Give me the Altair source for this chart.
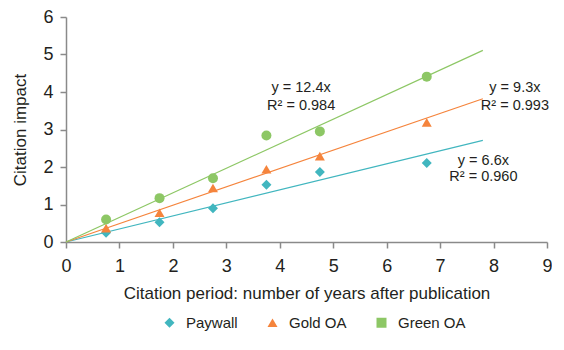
import altair as alt
import pandas as pd

# ---- data ----
series = ["Paywall", "Gold OA", "Green OA"]
years = [0.75, 1.75, 2.75, 3.75, 4.75, 6.75]
paywall = [0.25, 0.53, 0.90, 1.53, 1.87, 2.11]
gold = [0.37, 0.78, 1.44, 1.94, 2.29, 3.19]
green = [0.60, 1.17, 1.70, 2.84, 2.95, 4.41]

trend_x = [0.0, 7.8]
trend_start = [0.0, 0.0, 0.0]
trend_end = [2.71, 3.82, 5.11]

eq_labels = ["y = 6.6x", "y = 9.3x", "y = 12.4x"]
r2_labels = ["R\u00b2 = 0.960", "R\u00b2 = 0.993", "R\u00b2 = 0.984"]
label_x = [7.81, 8.4, 4.4]
eq_y = [2.17, 4.11, 4.12]
r2_y = [1.73, 3.64, 3.64]

colors = ["#41b6bf", "#f5843c", "#8dc765"]
FONT = "Liberation Sans, Arial, sans-serif"
TXT = "#231f20"

# ---- tables ----
pts = pd.DataFrame(
    [{"series": s, "x": x, "y": y}
     for s, vals in zip(series, [paywall, gold, green])
     for x, y in zip(years, vals)]
)
lines = pd.DataFrame(
    [{"series": s, "x": trend_x[0], "y": a} for s, a in zip(series, trend_start)]
    + [{"series": s, "x": trend_x[1], "y": b} for s, b in zip(series, trend_end)]
)
ann = pd.DataFrame(
    [{"series": s, "x": lx, "y": ey, "t": e} for s, lx, ey, e in zip(series, label_x, eq_y, eq_labels)]
    + [{"series": s, "x": lx, "y": ry, "t": r} for s, lx, ry, r in zip(series, label_x, r2_y, r2_labels)]
)

xs = alt.Scale(domain=[0, 9], nice=False)
ys = alt.Scale(domain=[0, 6], nice=False)
cs = alt.Scale(domain=series, range=colors)

xax = alt.Axis(values=list(range(10)), title="Citation period: number of years after publication",
               grid=False, labelFlush=False, labelPadding=9, titlePadding=10)
yax = alt.Axis(values=list(range(7)), title="Citation impact", grid=False,
               labelPadding=7, titlePadding=13)

base_x = alt.X("x:Q", scale=xs, axis=xax)
base_y = alt.Y("y:Q", scale=ys, axis=yax)

leg = alt.Legend(orient="none", direction="horizontal", title=None,
                 legendX=96, legendY=298, columnPadding=27, padding=0,
                 symbolSize=100, labelFontSize=15, labelFont=FONT, labelOffset=9,
                 labelColor=TXT, symbolStrokeWidth=0)

line_layer = alt.Chart(lines).mark_line(strokeWidth=1.2).encode(
    x=base_x, y=base_y,
    color=alt.Color("series:N", scale=cs, legend=None),
    detail="series:N",
)

point_layer = alt.Chart(pts).mark_point(filled=True, size=100, opacity=1).encode(
    x=base_x, y=base_y,
    color=alt.Color("series:N", scale=cs, legend=None),
    shape=alt.Shape("series:N", scale=alt.Scale(domain=series, range=["diamond", "triangle-up", "circle"]),
                    legend=None),
)

legend_layer = alt.Chart(pts).transform_filter("false").mark_point(filled=True, size=100, opacity=1).encode(
    x=base_x, y=base_y,
    color=alt.Color("series:N", scale=cs, legend=leg),
    shape=alt.Shape("series:N", scale=alt.Scale(domain=series, range=["diamond", "triangle-up", "square"]),
                    legend=leg),
)

text_layer = alt.Chart(ann).mark_text(fontSize=14.5, font=FONT, color=TXT).encode(
    x=base_x, y=base_y, text="t:N",
)

chart = alt.layer(line_layer, point_layer, legend_layer, text_layer).resolve_scale(
    shape="independent", color="independent"
).properties(
    width=481, height=225,
    autosize=alt.AutoSizeParams(type="none"),
    padding={"left": 58, "top": 9, "right": 5, "bottom": 94},
).configure_view(stroke=None).configure_axis(
    domainColor="#8a8a8a", tickColor="#8a8a8a", domainWidth=1.5, tickWidth=1.5, tickSize=6,
    labelFont=FONT, labelFontSize=18, labelColor=TXT,
    titleFont=FONT, titleFontSize=17, titleColor=TXT, titleFontWeight="normal",
)

chart.save("out.html", embed_options={"renderer": "svg", "actions": False})
